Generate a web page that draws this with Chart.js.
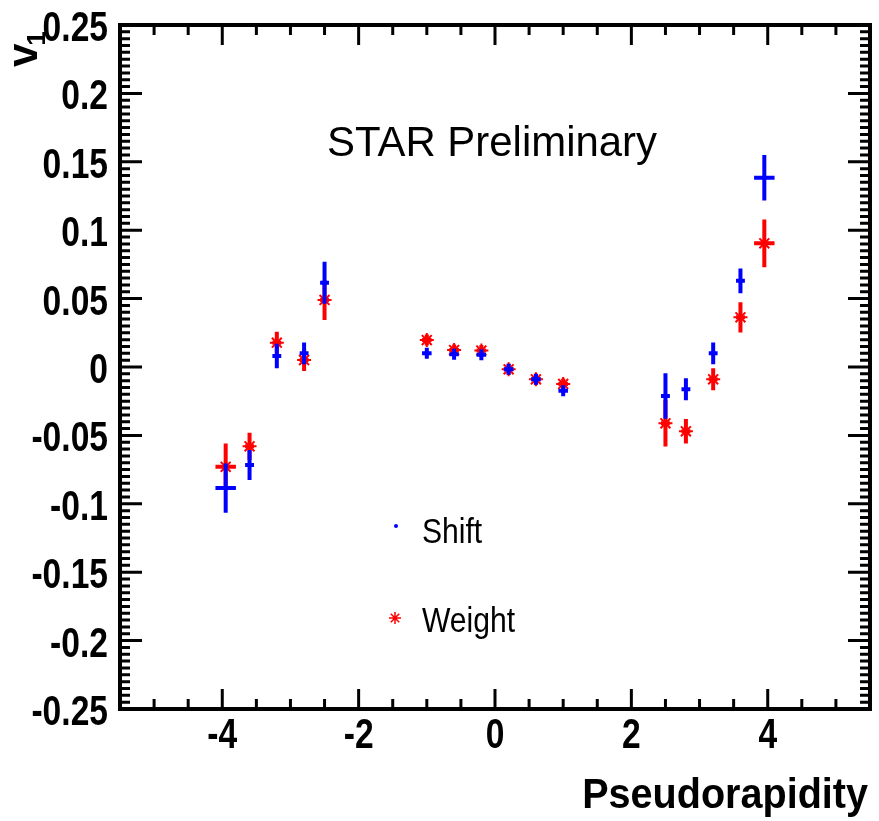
<!DOCTYPE html>
<html lang="en">
<head>
<meta charset="UTF-8">
<title>v1 vs Pseudorapidity</title>
<script src="https://cdn.jsdelivr.net/npm/chart.js"></script>
<style>
  body { margin: 0; background: #fff; }
  canvas { display: block; }
</style>
</head>
<body>
<canvas id="myChart" width="879" height="821"></canvas>
<script>
// pseudorapidity bins
const eta = [-3.95, -3.6, -3.2, -2.8, -2.5, -1.0, -0.6, -0.2, 0.2, 0.6, 1.0, 2.5, 2.8, 3.2, 3.6, 3.95];
const etaErr = [0.15, 0.065, 0.065, 0.065, 0.065, 0.07, 0.07, 0.07, 0.07, 0.07, 0.07, 0.065, 0.065, 0.065, 0.065, 0.15];

// "Shift" method
const shift = [-0.0885, -0.0716, 0.008, 0.010, 0.0616, 0.010, 0.0093, 0.0090, -0.0017, -0.009, -0.0173, -0.0212, -0.0163, 0.010, 0.063, 0.1384];
const shiftErr = [0.018, 0.011, 0.009, 0.008, 0.0154, 0.004, 0.004, 0.004, 0.004, 0.004, 0.004, 0.0166, 0.008, 0.008, 0.009, 0.0166];

// "Weight" method
const weight = [-0.073, -0.058, 0.0178, 0.0051, 0.049, 0.0197, 0.0124, 0.0120, -0.0017, -0.009, -0.0124, -0.0412, -0.047, -0.009, 0.0363, 0.0904];
const weightErr = [0.017, 0.010, 0.008, 0.008, 0.0146, 0.004, 0.004, 0.004, 0.004, 0.004, 0.004, 0.017, 0.009, 0.008, 0.011, 0.0175];

const xTickValues = [-4, -2, 0, 2, 4];
const xTickLabels = ['-4', '-2', '0', '2', '4'];
const yTickValues = [-0.25, -0.2, -0.15, -0.1, -0.05, 0, 0.05, 0.1, 0.15, 0.2, 0.25];
const yTickLabels = ['-0.25', '-0.2', '-0.15', '-0.1', '-0.05', '0', '0.05', '0.1', '0.15', '0.2', '0.25'];

const SANS = '"Liberation Sans", Arial, sans-serif';
const TICK_FONT = 'bold 42px ' + SANS;

// text squeezed horizontally, like the ROOT output
function squeezedText(ctx, text, x, y, font, sx, align) {
	ctx.save();
	ctx.font = font;
	ctx.textBaseline = 'alphabetic';
	ctx.textAlign = 'left';
	const w = ctx.measureText(text).width * sx;
	let left = x;
	if (align === 'right') left = x - w;
	if (align === 'center') left = x - w / 2;
	ctx.translate(left, y);
	ctx.scale(sx, 1);
	ctx.fillText(text, 0, 0);
	ctx.restore();
}

const errorBars = {
	id: 'errorBars',
	beforeDatasetDraw(chart, args) {
		const ds = chart.data.datasets[args.index];
		const { ctx, scales: { x, y } } = chart;
		ctx.save();
		ctx.strokeStyle = ds.borderColor;
		ctx.lineWidth = 4;
		ds.data.forEach((p, i) => {
			const px = x.getPixelForValue(p.x);
			const py = y.getPixelForValue(p.y);
			ctx.beginPath();
			ctx.moveTo(px, y.getPixelForValue(p.y - ds.yErrors[i]));
			ctx.lineTo(px, y.getPixelForValue(p.y + ds.yErrors[i]));
			ctx.moveTo(x.getPixelForValue(p.x - ds.xErrors[i]), py);
			ctx.lineTo(x.getPixelForValue(p.x + ds.xErrors[i]), py);
			ctx.stroke();
		});
		ctx.restore();
	}
};

const rootFrame = {
	id: 'rootFrame',
	afterDraw(chart) {
		const { ctx, chartArea: a, scales: { x, y } } = chart;
		ctx.save();
		ctx.strokeStyle = '#000';
		ctx.fillStyle = '#000';

		// inward ticks on all four sides
		ctx.lineWidth = 3;
		ctx.beginPath();
		for (let k = 1; k < 22; k++) {
			const v = -5.5 + k * 0.5;
			const px = x.getPixelForValue(v);
			const len = Math.abs(v % 2) < 1e-9 ? 20 : 10;
			ctx.moveTo(px, a.bottom); ctx.lineTo(px, a.bottom - len);
			ctx.moveTo(px, a.top); ctx.lineTo(px, a.top + len);
		}
		for (let k = 1; k < 100; k++) {
			const py = y.getPixelForValue(-0.25 + k * 0.005);
			const len = k % 10 === 0 ? 22 : 10;
			ctx.moveTo(a.left, py); ctx.lineTo(a.left + len, py);
			ctx.moveTo(a.right, py); ctx.lineTo(a.right - len, py);
		}
		ctx.stroke();

		ctx.lineWidth = 4;
		ctx.strokeRect(a.left, a.top, a.right - a.left, a.bottom - a.top);

		// tick labels, placed through the scales
		x.ticks.forEach(t => {
			squeezedText(ctx, xTickLabels[xTickValues.indexOf(t.value)], x.getPixelForValue(t.value), a.bottom + 39, TICK_FONT, 0.8, 'center');
		});
		y.ticks.forEach(t => {
			squeezedText(ctx, yTickLabels[yTickValues.indexOf(t.value)], a.left - 12, y.getPixelForValue(t.value) + 16, TICK_FONT, 0.8, 'right');
		});

		// titles
		squeezedText(ctx, 'STAR Preliminary', 327, 156, '43px ' + SANS, 0.975, 'left');
		squeezedText(ctx, 'Pseudorapidity', 868, 808, 'bold 43px ' + SANS, 0.92, 'right');

		ctx.save();
		ctx.translate(37, 67);
		ctx.rotate(-Math.PI / 2);
		ctx.font = 'bold 42px ' + SANS;
		ctx.textBaseline = 'alphabetic';
		ctx.fillText('v', 0, 0);
		const vw = ctx.measureText('v').width;
		ctx.font = 'bold 26px ' + SANS;
		ctx.fillText('1', vw - 2, 8);
		ctx.restore();

		// legend
		ctx.fillStyle = '#0000ff';
		ctx.beginPath();
		ctx.arc(396, 526, 2, 0, Math.PI * 2);
		ctx.fill();
		ctx.strokeStyle = '#ff0000';
		ctx.lineWidth = 1.5;
		ctx.beginPath();
		for (let k = 0; k < 4; k++) {
			const ang = k * Math.PI / 4;
			ctx.moveTo(395 - 6 * Math.cos(ang), 618 - 6 * Math.sin(ang));
			ctx.lineTo(395 + 6 * Math.cos(ang), 618 + 6 * Math.sin(ang));
		}
		ctx.stroke();
		ctx.fillStyle = '#000';
		squeezedText(ctx, 'Shift', 422, 543, '35px ' + SANS, 0.86, 'left');
		squeezedText(ctx, 'Weight', 422, 632, '35px ' + SANS, 0.86, 'left');

		ctx.restore();
	}
};

const ctx = document.getElementById('myChart').getContext('2d');

new Chart(ctx, {
	type: 'scatter',
	data: {
		datasets: [
			{
				label: 'Shift',
				data: eta.map((v, i) => ({ x: v, y: shift[i] })),
				xErrors: etaErr,
				yErrors: shiftErr,
				borderColor: '#0000ff',
				backgroundColor: '#0000ff',
				pointStyle: 'circle',
				pointRadius: 2.5,
				borderWidth: 0
			},
			{
				label: 'Weight',
				data: eta.map((v, i) => ({ x: v, y: weight[i] })),
				xErrors: etaErr,
				yErrors: weightErr,
				borderColor: '#ff0000',
				backgroundColor: '#ff0000',
				pointStyle: 'star',
				pointRadius: 7,
				borderWidth: 2
			}
		]
	},
	options: {
		responsive: false,
		animation: false,
		events: [],
		layout: { padding: { top: 25, right: 4, left: 0, bottom: 0 } },
		plugins: {
			legend: { display: false },
			tooltip: { enabled: false }
		},
		scales: {
			x: {
				type: 'linear',
				min: -5.5,
				max: 5.5,
				afterBuildTicks: scale => { scale.ticks = xTickValues.map(v => ({ value: v })); },
				afterFit: scale => { scale.height = 112; },
				grid: { display: false, drawTicks: false },
				border: { display: false },
				ticks: { display: false }
			},
			y: {
				type: 'linear',
				min: -0.25,
				max: 0.25,
				afterBuildTicks: scale => { scale.ticks = yTickValues.map(v => ({ value: v })); },
				afterFit: scale => { scale.width = 120; },
				grid: { display: false, drawTicks: false },
				border: { display: false },
				ticks: { display: false }
			}
		}
	},
	plugins: [errorBars, rootFrame]
});
</script>
</body>
</html>
